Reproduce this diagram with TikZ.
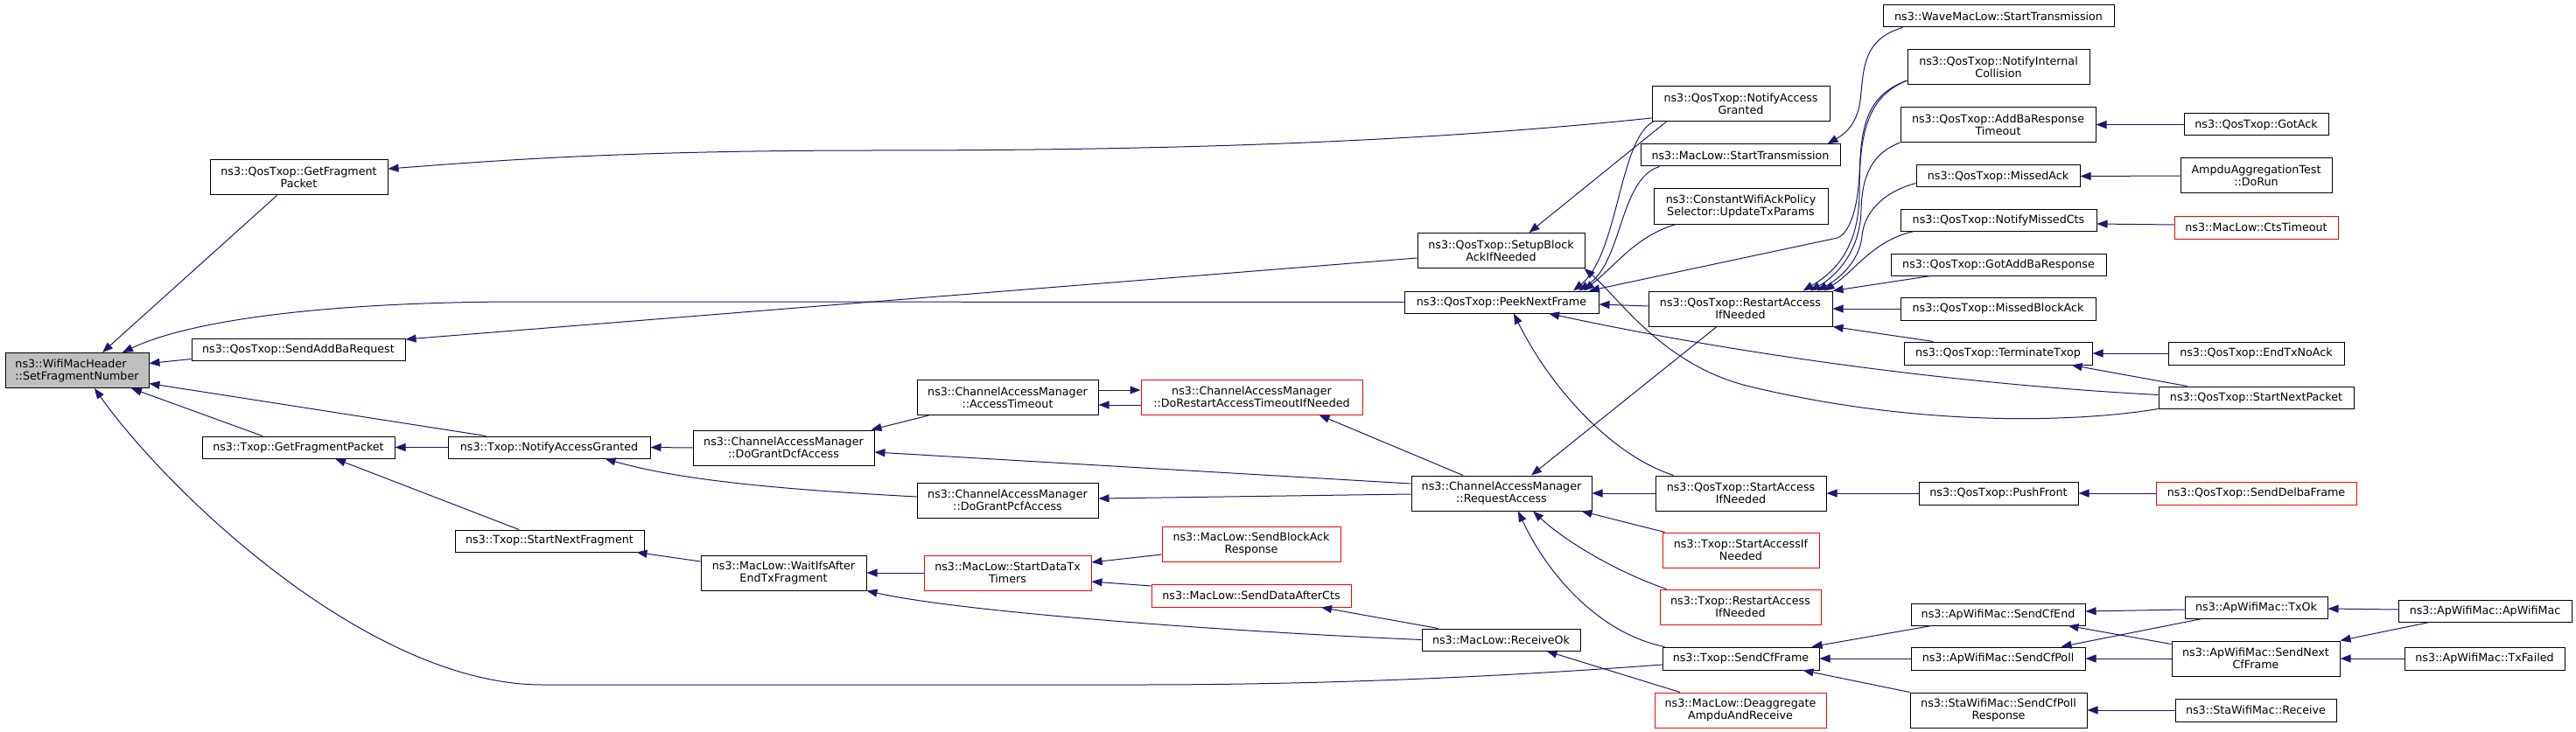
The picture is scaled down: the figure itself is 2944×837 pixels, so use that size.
\documentclass[tikz,border=0pt]{standalone}
\usepackage{fontspec}
\setmainfont{DejaVu Sans}
\usetikzlibrary{arrows.meta}
\definecolor{edgeblue}{HTML}{191970}
\definecolor{rootgray}{HTML}{BFBFBF}
\tikzset{
  fn/.style={draw=black,line width=1pt,inner sep=0pt,align=center,minimum height=25pt,
    font={\fontsize{12.7}{14}\selectfont}},
  tall/.style={minimum height=40pt},
  trunc/.style={draw=red},
  call/.style={edgeblue,line width=1pt,-{Triangle[length=12pt,width=9pt]}}
}
\begin{document}
\begin{tikzpicture}[x=1pt,y=-1pt]
\useasboundingbox (0,0) rectangle (2944,837);
\node (wmh) at (88,423.5) [fn,tall,minimum width=164pt,fill=rootgray,align=left] {ns3::WifiMacHeader\\::SetFragmentNumber};
\node (qgfp) at (341.5,203) [fn,tall,minimum width=203pt] {ns3::QosTxop::GetFragment\\Packet};
\node (qsaddba) at (341,399.5) [fn,minimum width=244pt] {ns3::QosTxop::SendAddBaRequest};
\node (tgfp) at (341,511.5) [fn,minimum width=220pt] {ns3::Txop::GetFragmentPacket};
\node (tnag) at (627.5,511.5) [fn,minimum width=231pt] {ns3::Txop::NotifyAccessGranted};
\node (tsnf) at (628,618.5) [fn,minimum width=216pt] {ns3::Txop::StartNextFragment};
\node (dgdcf) at (895.5,512) [fn,tall,minimum width=207pt] {ns3::ChannelAccessManager\\::DoGrantDcfAccess};
\node (waitifs) at (895.5,655) [fn,tall,minimum width=189pt] {ns3::MacLow::WaitIfsAfter\\EndTxFragment};
\node (acctime) at (1151.5,454.5) [fn,tall,minimum width=207pt] {ns3::ChannelAccessManager\\::AccessTimeout};
\node (dgpcf) at (1151.5,572) [fn,tall,minimum width=207pt] {ns3::ChannelAccessManager\\::DoGrantPcfAccess};
\node (sdtt) at (1151.5,655) [fn,tall,trunc,minimum width=191pt] {ns3::MacLow::StartDataTx\\Timers};
\node (drati) at (1430.5,454) [fn,tall,trunc,minimum width=253pt] {ns3::ChannelAccessManager\\::DoRestartAccessTimeoutIfNeeded};
\node (sbar) at (1430,622) [fn,tall,trunc,minimum width=204pt] {ns3::MacLow::SendBlockAck\\Response};
\node (sdac) at (1430,681) [fn,trunc,minimum width=228pt,minimum height=26pt] {ns3::MacLow::SendDataAfterCts};
\node (qsetup) at (1715.5,286.5) [fn,tall,minimum width=191pt] {ns3::QosTxop::SetupBlock\\AckIfNeeded};
\node (qpeek) at (1716,345.5) [fn,minimum width=222pt] {ns3::QosTxop::PeekNextFrame};
\node (reqacc) at (1716,564) [fn,tall,minimum width=206pt] {ns3::ChannelAccessManager\\::RequestAccess};
\node (rxok) at (1715.5,731.5) [fn,minimum width=181pt] {ns3::MacLow::ReceiveOk};
\node (qnag) at (1989.5,118.5) [fn,tall,minimum width=203pt] {ns3::QosTxop::NotifyAccess\\Granted};
\node (mlst) at (1989,177.5) [fn,minimum width=228pt] {ns3::MacLow::StartTransmission};
\node (cwap) at (1989.5,236) [fn,tall,minimum width=199pt] {ns3::ConstantWifiAckPolicy\\Selector::UpdateTxParams};
\node (qrai) at (1989,353) [fn,tall,minimum width=210pt] {ns3::QosTxop::RestartAccess\\IfNeeded};
\node (qsai) at (1989.5,564) [fn,tall,minimum width=195pt] {ns3::QosTxop::StartAccess\\IfNeeded};
\node (tsai) at (1989.5,629) [fn,tall,trunc,minimum width=179pt] {ns3::Txop::StartAccessIf\\Needed};
\node (trai) at (1989,694) [fn,tall,trunc,minimum width=184pt] {ns3::Txop::RestartAccess\\IfNeeded};
\node (tscf) at (1989.5,753) [fn,minimum width=179pt,minimum height=26pt] {ns3::Txop::SendCfFrame};
\node (deagg) at (1989,812) [fn,tall,trunc,minimum width=196pt] {ns3::MacLow::Deaggregate\\AmpduAndReceive};
\node (wmlst) at (2284,18.5) [fn,minimum width=264pt] {ns3::WaveMacLow::StartTransmission};
\node (qnic) at (2284,77) [fn,tall,minimum width=208pt] {ns3::QosTxop::NotifyInternal\\Collision};
\node (qabrt) at (2283.5,142.5) [fn,tall,minimum width=223pt] {ns3::QosTxop::AddBaResponse\\Timeout};
\node (qmack) at (2283.5,201.5) [fn,minimum width=187pt] {ns3::QosTxop::MissedAck};
\node (qnmc) at (2284,251.5) [fn,minimum width=224pt] {ns3::QosTxop::NotifyMissedCts};
\node (qgabr) at (2284,302.5) [fn,minimum width=246pt] {ns3::QosTxop::GotAddBaResponse};
\node (qmback) at (2283.5,353) [fn,minimum width=223pt,minimum height=26pt] {ns3::QosTxop::MissedBlockAck};
\node (qterm) at (2283.5,404) [fn,minimum width=215pt,minimum height=26pt] {ns3::QosTxop::TerminateTxop};
\node (qpush) at (2284,564) [fn,minimum width=182pt,minimum height=26pt] {ns3::QosTxop::PushFront};
\node (apcfend) at (2283.5,702.5) [fn,minimum width=199pt] {ns3::ApWifiMac::SendCfEnd};
\node (apcfpoll) at (2283.5,753) [fn,minimum width=199pt,minimum height=26pt] {ns3::ApWifiMac::SendCfPoll};
\node (stacfpr) at (2284,812) [fn,tall,minimum width=202pt] {ns3::StaWifiMac::SendCfPoll\\Response};
\node (qgotack) at (2578.5,142.5) [fn,minimum width=165pt] {ns3::QosTxop::GotAck};
\node (ampdu) at (2578.5,201) [fn,tall,minimum width=173pt] {AmpduAggregationTest\\::DoRun};
\node (ctsto) at (2578.5,260) [fn,trunc,minimum width=187pt,minimum height=26pt] {ns3::MacLow::CtsTimeout};
\node (qendtx) at (2578.5,404) [fn,minimum width=201pt,minimum height=26pt] {ns3::QosTxop::EndTxNoAck};
\node (qsnp) at (2578.5,454.5) [fn,minimum width=223pt] {ns3::QosTxop::StartNextPacket};
\node (qdelba) at (2578.5,564) [fn,trunc,minimum width=229pt,minimum height=26pt] {ns3::QosTxop::SendDelbaFrame};
\node (aptxok) at (2578.5,694.5) [fn,minimum width=163pt] {ns3::ApWifiMac::TxOk};
\node (apsncf) at (2578,753) [fn,tall,minimum width=192pt] {ns3::ApWifiMac::SendNext\\CfFrame};
\node (starecv) at (2578,812) [fn,minimum width=184pt,minimum height=26pt] {ns3::StaWifiMac::Receive};
\node (apctor) at (2840,698.5) [fn,minimum width=198pt] {ns3::ApWifiMac::ApWifiMac};
\node (aptxf) at (2839.5,753) [fn,minimum width=183pt,minimum height=26pt] {ns3::ApWifiMac::TxFailed};
\draw[call] ([xshift=-25pt]qgfp.south) -- ([xshift=29pt]wmh.north);
\draw[call] (qpeek.west) -- (600,345) .. controls (380,345) and (220,365) .. ([xshift=52pt]wmh.north);
\draw[call] ([yshift=-11pt]qsaddba.west) -- ([yshift=8pt]wmh.east);
\draw[call] ([xshift=-72pt]tnag.north) -- ([yshift=-15pt]wmh.east);
\draw[call] ([xshift=-41pt]tgfp.north) -- ([xshift=62pt]wmh.south);
\draw[call] ([yshift=-7pt]tscf.west) .. controls (1700,775) and (1500,783) .. (1300,783) -- (620,783) .. controls (420,783) and (190,560) .. ([xshift=20pt]wmh.south);
\draw[call] ([yshift=-16.5pt]qnag.west) .. controls (1600,165) and (1300,172) .. (1000,172) .. controls (700,172) and (550,185) .. ([yshift=10pt]qgfp.east);
\draw[call] ([yshift=-8.5pt]qsetup.west) -- ([yshift=11.5pt]qsaddba.east);
\draw[call] (tnag.west) -- (tgfp.east);
\draw[call] ([xshift=-35pt]tsnf.north) -- ([xshift=42pt]tgfp.south);
\draw[call] (dgdcf.west) -- (tnag.east);
\draw[call] ([yshift=4pt]dgpcf.west) .. controls (900,560) and (780,550) .. ([xshift=64pt]tnag.south);
\draw[call] ([yshift=13pt]waitifs.west) -- ([xshift=-9pt]tsnf.south east);
\draw[call] ([xshift=14pt]acctime.south west) -- ([xshift=-4pt]dgdcf.north east);
\draw[call] ([yshift=11pt]reqacc.west) -- ([yshift=-5pt]dgdcf.east);
\draw[call] ([yshift=8.5pt]acctime.east) -- ([yshift=8pt]drati.west);
\draw[call] ([yshift=-9pt]drati.west) -- ([yshift=-8.5pt]acctime.east);
\draw[call] ([xshift=-44pt]reqacc.north) -- ([xshift=77pt]drati.south);
\draw[call] ([yshift=-1pt]reqacc.west) -- ([yshift=2pt]dgpcf.east);
\draw[call] (sdtt.west) -- (waitifs.east);
\draw[call] (rxok.west) .. controls (1400,722) and (1100,700) .. (waitifs.south east);
\draw[call] ([yshift=-12pt]sbar.west) -- ([yshift=12pt]sdtt.east);
\draw[call] ([yshift=11pt]sdac.west) -- ([yshift=-10pt]sdtt.east);
\draw[call] ([xshift=-72pt]rxok.north) -- ([xshift=80pt]sdac.south);
\draw[call] ([xshift=-69pt]deagg.north) -- ([xshift=52pt]rxok.south);
\draw[call] ([xshift=-27pt]qrai.south) -- ([xshift=34pt]reqacc.north);
\draw[call] (qsai.west) -- (reqacc.east);
\draw[call] ([xshift=3pt]tsai.north west) -- ([xshift=-12pt]reqacc.south east);
\draw[call] ([xshift=8pt]trai.north west) .. controls (1850,655) and (1790,620) .. ([xshift=36pt]reqacc.south);
\draw[call] ([xshift=3pt]tscf.north west) .. controls (1830,725) and (1770,660) .. ([xshift=19pt]reqacc.south);
\draw[call] ([xshift=2pt]qnag.south west) .. controls (1850,160) and (1850,290) .. ([xshift=82pt]qpeek.north);
\draw[call] ([xshift=22pt]mlst.south west) .. controls (1850,205) and (1855,300) .. ([xshift=88pt]qpeek.north);
\draw[call] ([xshift=26pt]cwap.south west) .. controls (1870,270) and (1850,300) .. ([xshift=94pt]qpeek.north);
\draw[call] ([yshift=-15pt]qnic.west) .. controls (2130,110) and (2127,150) .. (2125,200) .. controls (2122,250) and (2110,268) .. (2100,272) -- ([xshift=100pt]qpeek.north);
\draw[call] ([yshift=3pt]qrai.west) -- ([yshift=-2.5pt]qpeek.east);
\draw[call] ([xshift=21pt]qsai.north west) .. controls (1840,520) and (1770,440) .. ([xshift=14pt]qpeek.south);
\draw[call] ([yshift=3pt]qsnp.west) .. controls (2250,440) and (2000,408) .. ([xshift=54pt]qpeek.south);
\draw[call] ([xshift=17pt]qnag.south west) -- ([xshift=32pt]qsetup.north);
\draw[call] ([yshift=-13pt]qsnp.west) .. controls (2380,482) and (2200,490) .. (2000,442) .. controls (1900,418) and (1850,340) .. ([xshift=-1pt]qsetup.south east);
\draw[call] ([xshift=23pt]wmlst.south west) .. controls (2128,45) and (2130,80) .. (2126,115) .. controls (2122,145) and (2105,155) .. ([xshift=-15pt]mlst.north east);
\draw[call] ([yshift=-15pt]qnic.west) .. controls (2135,110) and (2125,150) .. (2125,220) .. controls (2125,290) and (2090,315) .. ([xshift=-34pt]qrai.north east);
\draw[call] (qabrt.south west) .. controls (2140,175) and (2128,200) .. (2127,240) .. controls (2126,290) and (2095,318) .. ([xshift=-26pt]qrai.north east);
\draw[call] ([yshift=-8pt]qmack.west) .. controls (2150,220) and (2130,245) .. (2128,270) .. controls (2125,300) and (2100,320) .. ([xshift=-18pt]qrai.north east);
\draw[call] ([xshift=16pt]qnmc.south west) .. controls (2140,275) and (2120,310) .. ([xshift=-10pt]qrai.north east);
\draw[call] ([xshift=46pt]qgabr.south west) -- (qrai.north east);
\draw[call] (qmback.west) -- (qrai.east);
\draw[call] ([xshift=34pt]qterm.north west) -- (qrai.south east);
\draw[call] (qgotack.west) -- (qabrt.east);
\draw[call] (ampdu.west) -- (qmack.east);
\draw[call] ([yshift=3pt]ctsto.west) -- ([yshift=-4.5pt]qnmc.east);
\draw[call] (qendtx.west) -- (qterm.east);
\draw[call] ([xshift=33pt]qsnp.north west) -- ([xshift=-24pt]qterm.south east);
\draw[call] (qpush.west) -- (qsai.east);
\draw[call] (qdelba.west) -- (qpush.east);
\draw[call] ([xshift=24pt]apcfend.south west) -- ([xshift=-9pt]tscf.north east);
\draw[call] (apcfpoll.west) -- (tscf.east);
\draw[call] (stacfpr.north west) -- ([xshift=-19pt]tscf.south east);
\draw[call] ([yshift=-2.5pt]aptxok.west) -- ([yshift=3.5pt]apcfend.east);
\draw[call] ([yshift=-4pt]apsncf.north west) -- ([xshift=-20pt]apcfend.south east);
\draw[call] ([xshift=20pt]aptxok.south west) -- ([xshift=-28pt]apcfpoll.north east);
\draw[call] (apsncf.west) -- (apcfpoll.east);
\draw[call] (starecv.west) -- (stacfpr.east);
\draw[call] ([yshift=1.5pt]apctor.west) -- ([yshift=-1.5pt]aptxok.east);
\draw[call] ([xshift=36pt]apctor.south west) -- (apsncf.north east);
\draw[call] (aptxf.west) -- (apsncf.east);
\end{tikzpicture}
\end{document}
